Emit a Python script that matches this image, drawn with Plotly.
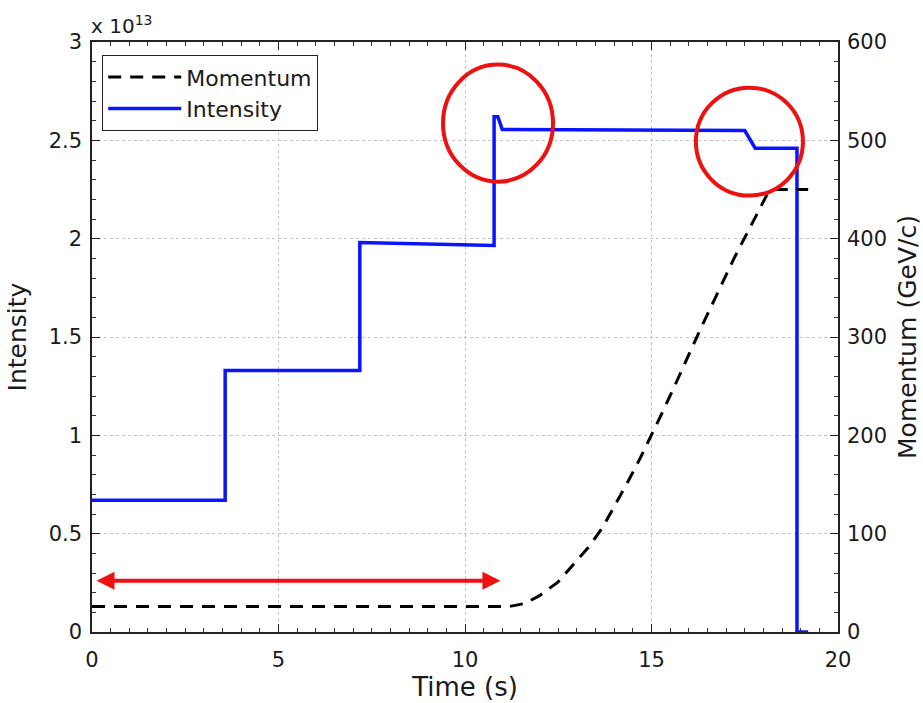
import plotly.graph_objects as go

# Intensity (units of 1e13 protons)
int_time = [0, 3.57, 3.57, 7.18, 7.18, 10.78, 10.78, 10.88, 11.0, 17.5, 17.78, 18.9, 18.9, 19.2]
int_vals = [0.67, 0.67, 1.33, 1.33, 1.98, 1.965, 2.62, 2.62, 2.555, 2.55, 2.46, 2.46, 0.0, 0.0]

# Momentum (GeV/c)
mom_time = [0, 11.2, 11.6, 12.0, 12.5, 12.9, 13.35, 13.7, 14.07, 14.37, 14.7, 15.0,
            15.3, 15.63, 16.3, 17.2, 17.8, 18.1, 18.3, 19.2]
mom_vals = [26, 26, 29, 37, 51, 68, 88, 107, 132, 153, 177, 200,
            224, 251, 307, 379, 424, 445, 450, 450]

FONT = "DejaVu Sans, Liberation Sans, Arial, sans-serif"
TXT = "#1a1a1a"
RED = "#ee1111"

fig = go.Figure()
fig.add_trace(go.Scatter(x=mom_time, y=mom_vals, name="Momentum", mode="lines",
                         line=dict(color="black", width=3, dash="13px,9px"),
                         yaxis="y2"))
fig.add_trace(go.Scatter(x=int_time, y=int_vals, name="Intensity", mode="lines",
                         line=dict(color="#0a14ff", width=3.5)))

# red circles highlighting features
fig.add_shape(type="circle", xref="x", yref="y", x0=9.41, x1=12.36, y0=2.29, y1=2.885,
              line=dict(color=RED, width=4))
fig.add_shape(type="circle", xref="x", yref="y", x0=16.19, x1=19.06, y0=2.219, y1=2.768,
              line=dict(color=RED, width=4))

# red double arrow
fig.add_annotation(x=10.95, y=0.26, ax=0.08, ay=0.26, xref="x", yref="y",
                   axref="x", ayref="y", text="", showarrow=True,
                   arrowhead=2, arrowside="end+start", arrowsize=0.9,
                   arrowwidth=4, arrowcolor=RED)

# exponent label
fig.add_annotation(x=0, y=1.0, xref="paper", yref="paper", xanchor="left", yanchor="bottom",
                   text="x 10<sup>13</sup>", showarrow=False, yshift=2, xshift=-3,
                   font=dict(family=FONT, size=20, color=TXT))

axis_common = dict(showline=True, linecolor="#222", linewidth=1.5,
                   ticks="inside", ticklen=8, tickwidth=1.3, tickcolor="#222",
                   tickfont=dict(family=FONT, size=21, color=TXT),
                   zeroline=False, automargin=False)
minor_common = dict(ticks="inside", ticklen=4, tickwidth=1.1, tickcolor="#333", showgrid=False)

fig.update_layout(
    width=923, height=703,
    margin=dict(l=92, r=85, t=42, b=71),
    paper_bgcolor="white", plot_bgcolor="white",
    showlegend=True,
    legend=dict(x=0.0134, y=0.978, xanchor="left", yanchor="top",
                bordercolor="#222", borderwidth=1.2, bgcolor="white",
                font=dict(family=FONT, size=22, color=TXT),
                tracegroupgap=0, itemwidth=73),
    xaxis=dict(range=[0, 20], tick0=0, dtick=5, mirror="ticks",
               showgrid=True, gridcolor="#c4c4c4", griddash="dot", gridwidth=1,
               ticklabelstandoff=8,
               title=dict(text="Time (s)", font=dict(family=FONT, size=26, color=TXT), standoff=4),
               minor=dict(dtick=0.5, **minor_common),
               **axis_common),
    yaxis=dict(range=[0, 3], tick0=0, dtick=0.5,
               showgrid=True, gridcolor="#c4c4c4", griddash="dot", gridwidth=1,
               ticklabelstandoff=4,
               title=dict(text="Intensity", font=dict(family=FONT, size=25, color=TXT), standoff=15),
               minor=dict(dtick=0.1, **minor_common),
               **axis_common),
    yaxis2=dict(range=[0, 600], tick0=0, dtick=100, overlaying="y", side="right",
                showgrid=False, ticklabelstandoff=3,
                title=dict(text="Momentum (GeV/c)", font=dict(family=FONT, size=25, color=TXT), standoff=12),
                minor=dict(dtick=20, **minor_common),
                **axis_common),
)

fig.write_html("out.html")
